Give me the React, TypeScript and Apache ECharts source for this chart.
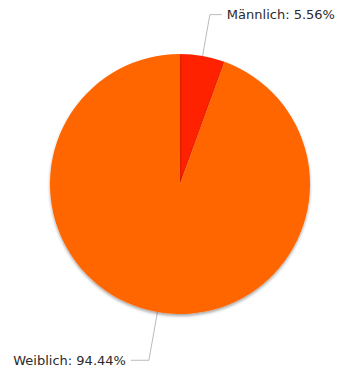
import React, { useEffect, useRef } from "react";
import * as echarts from "echarts";

const categories = ["Männlich", "Weiblich"];
const values = [1, 17];
const colors = ["#ff2000", "#ff6600"];
const lineLengths = [42, 49];
const lineLengths2 = [12, 18];

export default function App() {
  const ref = useRef<HTMLDivElement>(null);
  useEffect(() => {
    document.body.style.margin = "0";
    const chart = echarts.init(ref.current!, undefined, { renderer: "svg" });
    chart.setOption({
      animation: false,
      backgroundColor: "#ffffff",
      series: [
        {
          type: "pie",
          center: [180, 184],
          radius: 130,
          startAngle: 90,
          clockwise: true,
          data: categories.map((c, i) => ({
            name: c,
            value: values[i],
            itemStyle: { color: colors[i] },
            labelLine: { length: lineLengths[i], length2: lineLengths2[i] },
          })),
          itemStyle: {
            shadowColor: "rgba(0,0,0,0.35)",
            shadowBlur: 3,
            shadowOffsetY: 2,
          },
          label: {
            formatter: "{b}: {d}%",
            fontFamily: "DejaVu Sans",
            fontSize: 13,
            color: "#2a2a2a",
          },
          labelLine: {
            lineStyle: { color: "#bbbbbb", width: 1 },
          },
          emphasis: { disabled: true },
        },
      ],
    });
    return () => chart.dispose();
  }, []);
  return <div ref={ref} style={{ width: 347, height: 370 }} />;
}
